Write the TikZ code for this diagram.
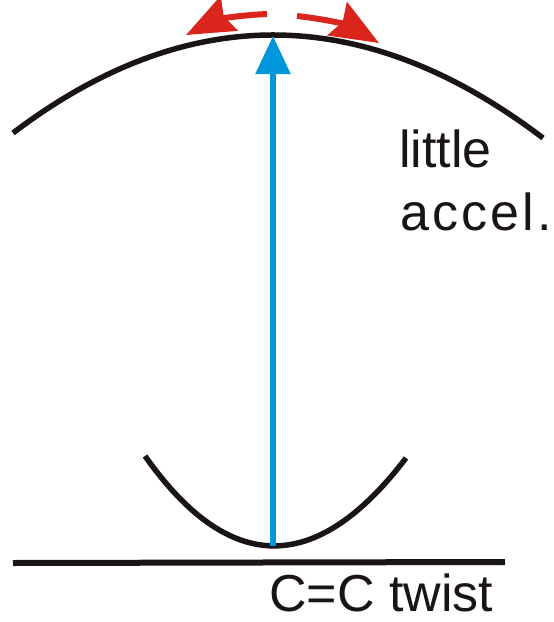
\documentclass[tikz,border=0pt]{standalone}
\usepackage{fontspec}
\setmainfont{Liberation Sans}
\newfontfamily\wideface[LetterSpace=6]{Liberation Sans}
\usepackage{tikz}
\usetikzlibrary{arrows.meta, positioning}
\definecolor{cblack}{HTML}{1A1414}
\definecolor{cblue}{HTML}{0096DB}
\definecolor{cred}{HTML}{D9251C}
\tikzset{
  curve/.style={draw=cblack, line width=5.5pt},
  base/.style={draw=cblack, line width=6pt},
  excite/.style={draw=cblue, line width=5.5pt, -{Triangle[length=38pt, width=34pt]}},
  swing/.style={draw=cred, line width=6pt, -{Stealth[length=48pt, width=38pt, inset=6pt]}},
  lbl/.style={font=\fontsize{52}{60}\selectfont, text=cblack, inner sep=0pt, text depth=0pt, anchor=base west}
}
\begin{document}
\begin{tikzpicture}[x=1pt, y=-1pt]
  \useasboundingbox (0,0) rectangle (554,622);
  % excited state surface
  \draw[curve] (13,133) .. controls (187,1) and (364,2) .. (543,138);
  % ground state well
  \draw[curve] (145,456) .. controls (229,575) and (316,576) .. (406,458);
  \draw[base] (13,563) -- (505,562);

  \coordinate (wellmin) at (273,546);
  \coordinate (frantop) at (273,36);
  \draw[excite] (wellmin) -- (frantop);

  \coordinate (lstart) at (267,14);
  \coordinate (ltip) at (186,35);
  \coordinate (rstart) at (297,16);
  \coordinate (rtip) at (379,43);
  \draw[swing] (lstart) to[bend right=12] (ltip);
  \draw[swing] (rstart) to[bend left=12] (rtip);

  \node[lbl] (little) at (399,167) {little};
  \node[lbl, font=\fontsize{52}{60}\wideface] (accel) at (400,230) {accel.};
  \node[lbl] (twist) at (269,611) {C=C twist};
\end{tikzpicture}
\end{document}
